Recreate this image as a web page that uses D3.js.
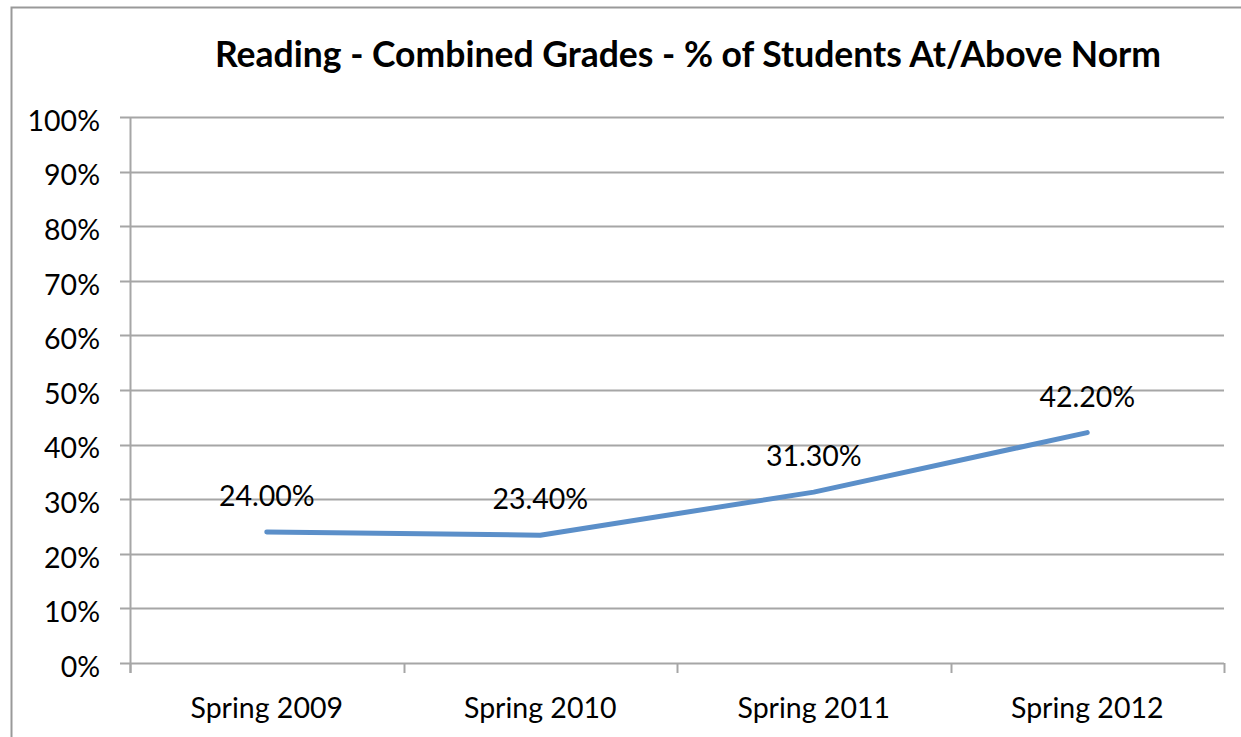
<!DOCTYPE html>
<html>
<head>
<meta charset="utf-8">
<script src="https://cdn.jsdelivr.net/npm/d3@7"></script>
<style>
  body { margin: 0; background: #fff; }
  svg { display: block; font-family: Lato, "Open Sans", sans-serif; }
</style>
</head>
<body>
<figure id="chart" style="margin:0"></figure>
<script>
const categories = ["Spring 2009", "Spring 2010", "Spring 2011", "Spring 2012"];
const values = [24.0, 23.4, 31.3, 42.2];
const yTicks = [0, 10, 20, 30, 40, 50, 60, 70, 80, 90, 100];
const title = "Reading - Combined Grades - % of Students At/Above Norm";

const width = 1241;
const height = 737;
const margin = { top: 117, right: 17, bottom: 74, left: 130 };

const svg = d3.select("figure#chart")
  .append("svg")
  .attr("width", width)
  .attr("height", height);

// Outer chart border (right and bottom edges sit off-canvas)
svg.append("rect")
  .attr("x", 11.5).attr("y", 7.5)
  .attr("width", width).attr("height", height)
  .attr("fill", "none")
  .attr("stroke", "#999")
  .attr("stroke-width", 2);

const x = d3.scaleBand()
  .domain(categories)
  .range([margin.left, width - margin.right]);

const y = d3.scaleLinear()
  .domain([0, 100])
  .range([height - margin.bottom, margin.top]);

// Horizontal gridlines
svg.append("g")
  .selectAll("line")
  .data(yTicks)
  .join("line")
  .attr("x1", margin.left - 10)
  .attr("x2", width - margin.right)
  .attr("y1", d => Math.round(y(d)) + 0.5)
  .attr("y2", d => Math.round(y(d)) + 0.5)
  .attr("stroke", "#a6a6a6")
  .attr("stroke-width", 2);

// Y axis labels
svg.append("g")
  .selectAll("text")
  .data(yTicks)
  .join("text")
  .attr("x", margin.left - 30)
  .attr("y", d => y(d) + 3.5)
  .attr("dy", "0.36em")
  .attr("text-anchor", "end")
  .attr("font-size", 28.5)
  .attr("fill", "#000")
  .text(d => d + "%");

// Y axis line
svg.append("line")
  .attr("x1", margin.left + 0.5).attr("x2", margin.left + 0.5)
  .attr("y1", y(100)).attr("y2", y(0) + 10)
  .attr("stroke", "#a6a6a6")
  .attr("stroke-width", 2);

// Category tick marks at band boundaries
const bounds = categories.map(c => x(c)).concat([x(categories[categories.length - 1]) + x.bandwidth()]);
svg.append("g")
  .selectAll("line")
  .data(bounds)
  .join("line")
  .attr("x1", d => Math.round(d) + 0.5)
  .attr("x2", d => Math.round(d) + 0.5)
  .attr("y1", y(0))
  .attr("y2", y(0) + 10)
  .attr("stroke", "#a6a6a6")
  .attr("stroke-width", 2);

// Category labels
svg.append("g")
  .selectAll("text")
  .data(categories)
  .join("text")
  .attr("x", d => x(d) + x.bandwidth() / 2)
  .attr("y", y(0) + 55)
  .attr("text-anchor", "middle")
  .attr("font-size", 28.5)
  .attr("fill", "#000")
  .text(d => d);

// Data line
const line = d3.line()
  .x((d, i) => x(categories[i]) + x.bandwidth() / 2)
  .y(d => y(d));

svg.append("path")
  .datum(values)
  .attr("fill", "none")
  .attr("stroke", "#5b8fc9")
  .attr("stroke-width", 5)
  .attr("stroke-linecap", "round")
  .attr("stroke-linejoin", "round")
  .attr("d", line);

// Data labels
svg.append("g")
  .selectAll("text")
  .data(values)
  .join("text")
  .attr("x", (d, i) => x(categories[i]) + x.bandwidth() / 2)
  .attr("y", d => y(d) - 26)
  .attr("text-anchor", "middle")
  .attr("font-size", 28.5)
  .attr("fill", "#000")
  .text(d => d.toFixed(2) + "%");

// Title
svg.append("text")
  .attr("x", 688)
  .attr("y", 67)
  .attr("text-anchor", "middle")
  .attr("font-size", 35.5)
  .attr("font-weight", "bold")
  .attr("fill", "#000")
  .text(title);
</script>
</body>
</html>
